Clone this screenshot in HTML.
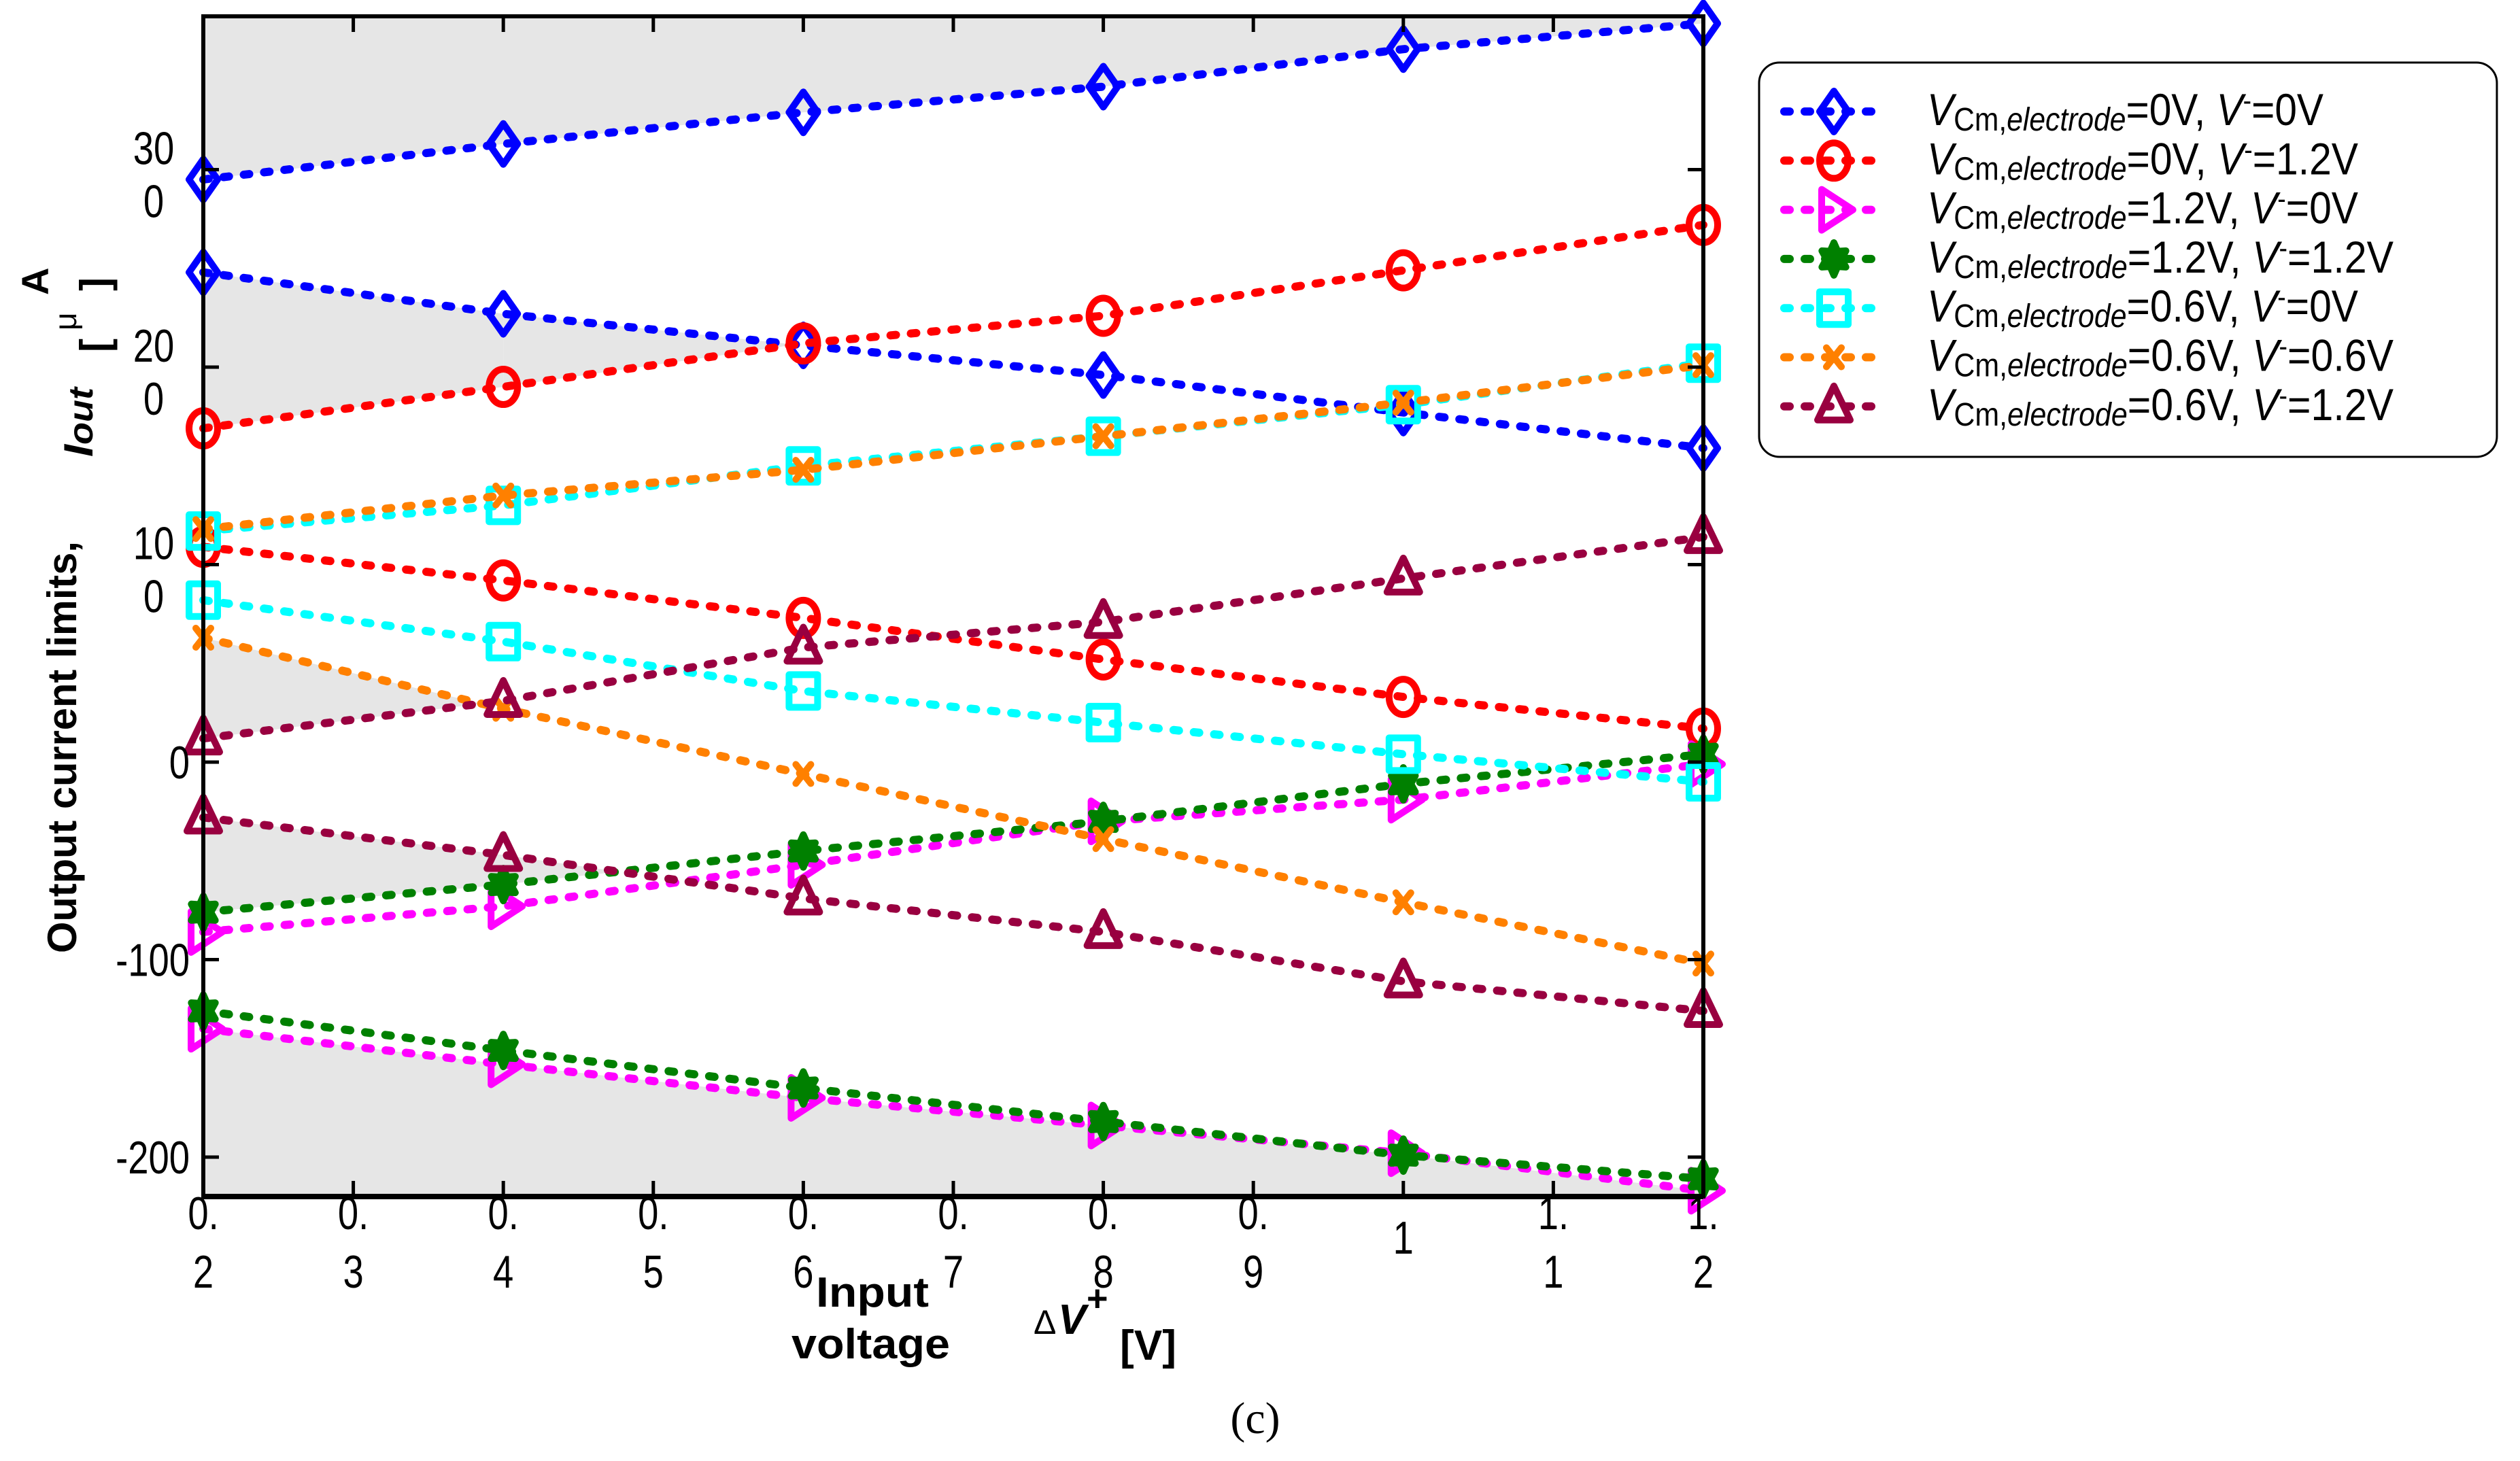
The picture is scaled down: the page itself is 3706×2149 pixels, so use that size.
<!DOCTYPE html>
<html><head><meta charset="utf-8"><style>
html,body{margin:0;padding:0;background:#fff;}
svg{display:block;}
text{font-family:"Liberation Sans",sans-serif;}
</style></head><body>
<svg id="chart" width="3706" height="2149" viewBox="0 0 3706 2149" xmlns="http://www.w3.org/2000/svg">
<g id="fills"></g>
<g id="series"></g>
<g id="axes"></g>
<g id="legend">
<rect x="2587" y="92" width="1085" height="580" rx="30" fill="#fff" stroke="#000" stroke-width="3"/>
</g>
<g font-weight="bold">
<text transform="translate(112,1099) rotate(-90)" text-anchor="middle" font-size="60" textLength="606" lengthAdjust="spacingAndGlyphs">Output current limits,</text>
<text transform="translate(136,672) rotate(-90)" font-size="60" font-style="italic" textLength="102" lengthAdjust="spacingAndGlyphs">I<tspan font-size="50">out</tspan></text>
<text transform="translate(160,518) rotate(-90)" font-size="60">[</text>
<text transform="translate(112,486) rotate(-90)" font-size="46" font-weight="normal">μ</text>
<text transform="translate(160,428) rotate(-90)" font-size="60">]</text>
<text transform="translate(71,434) rotate(-90)" font-size="56">A</text>
</g>
<g font-weight="bold">
<text x="1200" y="1922" font-size="62" textLength="166" lengthAdjust="spacingAndGlyphs">Input</text>
<text x="1164" y="1998" font-size="62" textLength="233" lengthAdjust="spacingAndGlyphs">voltage</text>
<text x="1520" y="1962" font-size="50" font-weight="normal">Δ</text>
<text x="1556" y="1962" font-size="62" font-style="italic">V</text>
<text x="1598" y="1928" font-size="54">+</text>
<text x="1647" y="2000" font-size="62" textLength="83" lengthAdjust="spacingAndGlyphs">[V]</text>
</g>
<text x="1846" y="2108" text-anchor="middle" font-size="66" style="font-family:'Liberation Serif',serif">(c)</text>
</svg>
<script>
const xValues = [0.2, 0.4, 0.6, 0.8, 1.0, 1.2];
const seriesNames = ['vcm0-vm0','vcm0-vm1.2','vcm1.2-vm0','vcm1.2-vm1.2','vcm0.6-vm0','vcm0.6-vm0.6','vcm0.6-vm1.2'];
const blueUpper = [295, 313, 329, 342, 361, 374];
const blueLower = [248, 227, 211, 196, 177, 159];
const redUpper = [169, 190, 212, 226, 249, 272];
const redLower = [109, 92, 73, 52, 33, 17];
const magentaUpper = [-86, -73, -52, -30, -19, -1];
const magentaLower = [-135, -153, -170, -184, -198, -217];
const greenUpper = [-76, -62, -45, -30, -11, 4];
const greenLower = [-126, -146, -165, -182, -199, -211];
const cyanUpper = [117, 130, 150, 165, 181, 202];
const cyanLower = [82, 61, 36, 20, 4, -10];
const orangeUpper = [118, 135, 148, 165, 182, 201];
const orangeLower = [63, 27, -6, -39, -71, -102];
const maroonUpper = [12, 31, 58, 71, 93, 114];
const maroonLower = [-28, -47, -69, -86, -111, -126];
const xTicks = [0.2,0.3,0.4,0.5,0.6,0.7,0.8,0.9,1.0,1.1,1.2];
const xTickTop = ['0.','0.','0.','0.','0.','0.','0.','0.','','1.','1.'];
const xTickBottom = ['2','3','4','5','6','7','8','9','1','1','2'];
const yTicks = [-200,-100,0,100,200,300];
const yTickTop = ['-200','-100','0','10','20','30'];
const yTickBottom = ['','','','0','0','0'];

const NS='http://www.w3.org/2000/svg';
const X0=299,X1=2505,Y0=24,Y1=1760;
const xMin=0.2,xMax=1.2,yZeroPix=1121,pxPer=2.905;
function sx(v){return X0+(v-xMin)/(xMax-xMin)*(X1-X0);}
function sy(v){return yZeroPix-v*pxPer;}
function mk(tag,attrs,parent){const e=document.createElementNS(NS,tag);for(const k in attrs)e.setAttribute(k,attrs[k]);parent.appendChild(e);return e;}

const fills=document.getElementById('fills');
const GRAY='#e6e6e6';
{
 let pts=[[sx(xMin),Y0],[sx(xMax),Y0]];
 for(let i=xValues.length-1;i>=0;i--)pts.push([sx(xValues[i]),sy(blueUpper[i])]);
 const p=mk('polygon',{points:pts.map(q=>q.join(',')).join(' '),fill:GRAY},fills);
 
 
}
{
 let pts=[];
 for(let i=0;i<xValues.length;i++)pts.push([sx(xValues[i]),sy(Math.min(greenLower[i],magentaLower[i]))]);
 pts.push([sx(xMax),Y1],[sx(xMin),Y1]);
 const p=mk('polygon',{points:pts.map(q=>q.join(',')).join(' '),fill:GRAY},fills);
 
 
}
function fillAbove(A,B,name){
 for(let i=0;i<xValues.length-1;i++){
  const xa=xValues[i],xb=xValues[i+1];
  const da=A[i]-B[i],db=A[i+1]-B[i+1];
  let poly=null;
  if(da>0&&db>0)poly=[[xa,A[i]],[xb,A[i+1]],[xb,B[i+1]],[xa,B[i]]];
  else if(da>0&&db<=0){const t=da/(da-db);const xc=xa+t*(xb-xa);const yc=A[i]+t*(A[i+1]-A[i]);poly=[[xa,A[i]],[xc,yc],[xa,B[i]]];}
  else if(da<=0&&db>0){const t=da/(da-db);const xc=xa+t*(xb-xa);const yc=A[i]+t*(A[i+1]-A[i]);poly=[[xc,yc],[xb,A[i+1]],[xb,B[i+1]]];}
  if(poly){
   const p=mk('polygon',{points:poly.map(q=>sx(q[0])+','+sy(q[1])).join(' '),fill:GRAY},fills);
   
   
  }
 }
}
fillAbove(blueLower,redUpper,'region-blue-red');
fillAbove(orangeLower,maroonUpper,'region-orange-maroon');
fillAbove(maroonLower,greenUpper,'region-maroon-green');

const seriesG=document.getElementById('series');
const defs=[
 {name:seriesNames[0],color:'#0000ff',m:'diamond',data:[blueUpper,blueLower]},
 {name:seriesNames[1],color:'#ff0000',m:'circle',data:[redUpper,redLower]},
 {name:seriesNames[2],color:'#ff00ff',m:'tri-right',data:[magentaUpper,magentaLower]},
 {name:seriesNames[3],color:'#008000',m:'hexagram',data:[greenUpper,greenLower]},
 {name:seriesNames[4],color:'#00ffff',m:'square',data:[cyanUpper,cyanLower]},
 {name:seriesNames[5],color:'#ff8000',m:'x',data:[orangeUpper,orangeLower]},
 {name:seriesNames[6],color:'#990040',m:'tri-up',data:[maroonUpper,maroonLower]}
];
function marker(type,cx,cy,color,parent){
 const a={fill:'none',stroke:color,'stroke-width':10,'stroke-linejoin':'round','stroke-linecap':'round'};
 let e;
 if(type==='diamond')e=mk('polygon',Object.assign({points:`${cx},${cy-30} ${cx+21},${cy} ${cx},${cy+30} ${cx-21},${cy}`},a),parent);
 else if(type==='circle')e=mk('ellipse',Object.assign({cx:cx,cy:cy,rx:21,ry:26},a),parent);
 else if(type==='square')e=mk('rect',Object.assign({x:cx-21,y:cy-24,width:42,height:48},a),parent);
 else if(type==='tri-up')e=mk('polygon',Object.assign({points:`${cx},${cy-30} ${cx+24},${cy+20} ${cx-24},${cy+20}`},a),parent);
 else if(type==='tri-right')e=mk('polygon',Object.assign({points:`${cx-18},${cy-30} ${cx+28},${cy} ${cx-18},${cy+30}`},a),parent);
 else if(type==='x')e=mk('path',Object.assign({d:`M${cx-11},${cy-14}L${cx+11},${cy+14}M${cx+11},${cy-14}L${cx-11},${cy+14}`},a),parent);
 else {const r=24,r2=13;let p=[];for(let k=0;k<12;k++){const ang=-Math.PI/2+k*Math.PI/6;const rr=k%2?r2:r;p.push((cx+rr*Math.cos(ang)*0.85)+','+(cy+rr*Math.sin(ang)));}
  e=mk('polygon',Object.assign({points:p.join(' ')},a),parent);e.setAttribute('fill',color);}
 
 
}
defs.forEach(d=>{
 const g=mk('g',{},seriesG);
 
 
 d.data.forEach((arr,j)=>{
  const pl=mk('polyline',{points:xValues.map((x,i)=>sx(x)+','+sy(arr[i])).join(' '),fill:'none',stroke:d.color,'stroke-width':12,'stroke-dasharray':'8 22','stroke-linecap':'round'},g);
  
  
  xValues.forEach((x,i)=>marker(d.m,sx(x),sy(arr[i]),d.color,g));
 });
});

const axes=document.getElementById('axes');
const frame=mk('rect',{x:X0,y:Y0,width:X1-X0,height:Y1-Y0,fill:'none',stroke:'#000','stroke-width':6},axes);


const bl=mk('line',{x1:X0,y1:Y1,x2:X1,y2:Y1,stroke:'#000','stroke-width':8},axes);


const tf='font-size:68px';
function lbl(txt,x,y,anchor,cx){
 const a=mk('text',{x:x,y:y,'text-anchor':anchor,style:tf,transform:`translate(${cx},0) scale(0.8,1) translate(${-cx},0)`},axes);
 a.textContent=txt;
 return a;
}
xTicks.forEach((v,i)=>{
 const x=sx(v);
 const t1=mk('line',{x1:x,y1:Y1,x2:x,y2:Y1-23,stroke:'#000','stroke-width':5},axes);
 
 
 const t2=mk('line',{x1:x,y1:Y0,x2:x,y2:Y0+23,stroke:'#000','stroke-width':5},axes);
 
 
 if(xTickTop[i]){
  const a=lbl(xTickTop[i],x,1808,'middle',x);
  
  
  const b=lbl(xTickBottom[i],x,1894,'middle',x);
  
  
 } else {
  const b=lbl(xTickBottom[i],x,1844,'middle',x);
  
  
 }
});
yTicks.forEach((v,i)=>{
 const y=sy(v);
 const t1=mk('line',{x1:X0,y1:y,x2:X0+23,y2:y,stroke:'#000','stroke-width':5},axes);
 
 
 const t2=mk('line',{x1:X1,y1:y,x2:X1-23,y2:y,stroke:'#000','stroke-width':5},axes);
 
 
 if(yTickBottom[i]){
  const a=lbl(yTickTop[i],226,y-8,'middle',226);
  
  
  const b=lbl(yTickBottom[i],226,y+70,'middle',226);
  
  
 } else {
  const a=lbl(yTickTop[i],279,y+24,'end',279);
  
  
 }
});

const legend=document.getElementById('legend');
const legVcm=['0V','0V','1.2V','1.2V','0.6V','0.6V','0.6V'];
const legVm=['0V','1.2V','0V','1.2V','0V','0.6V','1.2V'];
const legEnd=[3417,3468,3468,3520,3468,3520,3520];
defs.forEach((d,i)=>{
 const y=164+i*72.3;
 const g=mk('g',{},legend);
 
 
 mk('line',{x1:2624,y1:y,x2:2760,y2:y,stroke:d.color,'stroke-width':12,'stroke-dasharray':'8 22','stroke-linecap':'round'},g);
 marker(d.m,2697,y,d.color,g);
 const t=mk('text',{x:2834,y:y+20,'font-size':66,textLength:legEnd[i]-2834,lengthAdjust:'spacingAndGlyphs'},g);
 t.innerHTML=`<tspan font-style="italic">V</tspan><tspan font-size="48" dy="8">Cm,</tspan><tspan font-size="48" font-style="italic">electrode</tspan><tspan dy="-8">=${legVcm[i]},  </tspan><tspan font-style="italic">V</tspan><tspan font-size="42" dy="-22">-</tspan><tspan dy="22">=${legVm[i]}</tspan>`;
 
 
});
</script>
</body></html>
